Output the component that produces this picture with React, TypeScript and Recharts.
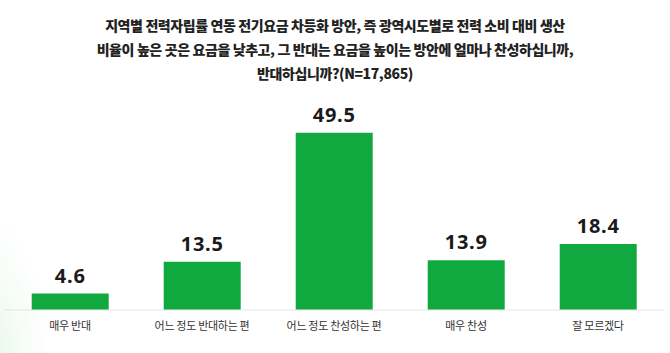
import React from "react";
import { BarChart, Bar, XAxis, YAxis, LabelList } from "recharts";

const titleLines = [
  "지역별 전력자립률 연동 전기요금 차등화 방안, 즉 광역시도별로 전력 소비 대비 생산",
  "비율이 높은 곳은 요금을 낮추고, 그 반대는 요금을 높이는 방안에 얼마나 찬성하십니까,",
  "반대하십니까?(N=17,865)",
];
const categories = ["매우 반대", "어느 정도 반대하는 편", "어느 정도 찬성하는 편", "매우 찬성", "잘 모르겠다"];
const values = [4.6, 13.5, 49.5, 13.9, 18.4];

const data = categories.map((c, i) => ({ name: c, value: values[i] }));

export default function App() {
  return (
    <div
      style={{
        position: "absolute",
        left: 0,
        top: 0,
        width: 670,
        height: 353,
        background: "#fff",
        overflow: "hidden",
      }}
    >
      <div
        style={{
          position: "absolute",
          left: -40,
          top: 210,
          width: 90,
          height: 200,
          background:
            "radial-gradient(ellipse at 30% 80%, rgba(205,238,210,0.55) 0%, rgba(225,245,228,0.3) 40%, rgba(255,255,255,0) 70%)",
        }}
      />
      <div
        style={{
          position: "absolute",
          left: 0,
          top: 13,
          width: 670,
          textAlign: "center",
          fontFamily: "'Noto Sans CJK KR', sans-serif",
          fontWeight: 900,
          fontSize: 14,
          letterSpacing: -0.4,
          lineHeight: "24px",
          color: "#222",
        }}
      >
        {titleLines.map((t, i) => (
          <div key={i}>{t}</div>
        ))}
      </div>
      <div style={{ position: "absolute", left: 0, top: 0 }}>
        <BarChart
          width={670}
          height={353}
          data={data}
          margin={{ top: 113, right: 6, bottom: 13, left: 4 }}
          barCategoryGap="21%"
        >
          <XAxis
            dataKey="name"
            axisLine={{ stroke: "#e6e6e6" }}
            tickLine={false}
            height={30}
            tickMargin={6}
            interval={0}
            tick={{
              fill: "#333",
              fontSize: 11,
              fontFamily: "'Noto Sans CJK KR', sans-serif",
              letterSpacing: -0.3,
            }}
          />
          <YAxis hide domain={[0, 55]} />
          <Bar dataKey="value" fill="#10a940" isAnimationActive={false}>
            <LabelList
              dataKey="value"
              position="top"
              offset={11}
              fill="#1a1a1a"
              fontSize={20}
              fontWeight={700}
              fontFamily="'Noto Sans', sans-serif"
              letterSpacing={0.8}
            />
          </Bar>
        </BarChart>
      </div>
    </div>
  );
}
